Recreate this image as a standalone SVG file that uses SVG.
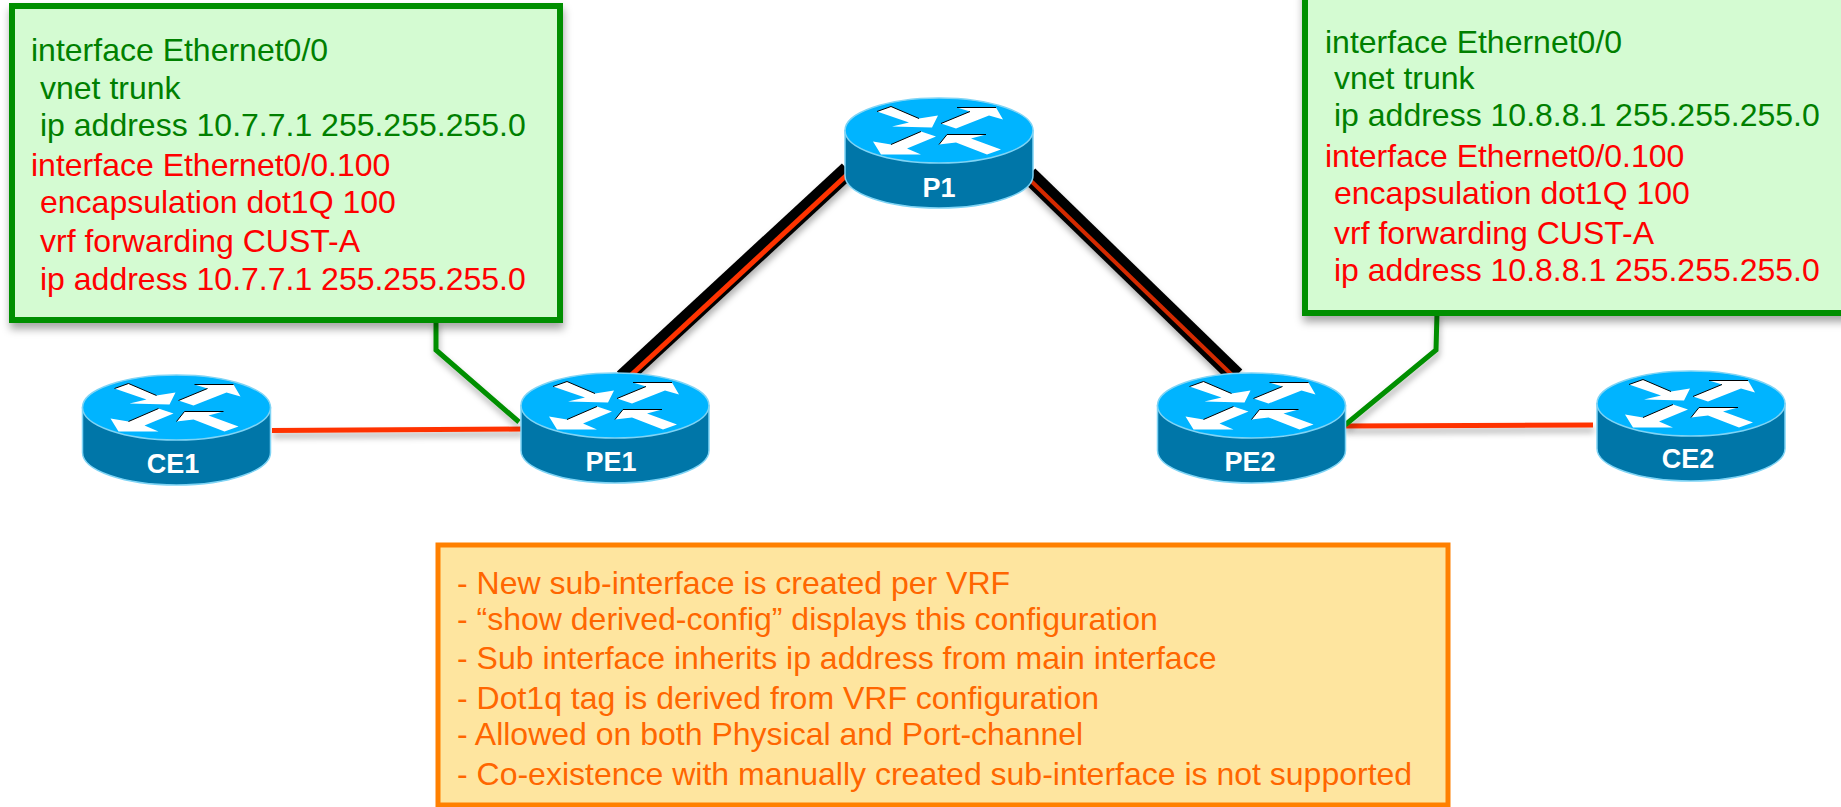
<svg xmlns="http://www.w3.org/2000/svg" width="1841" height="807" viewBox="0 0 1841 807">
<style>
text{font-family:"Liberation Sans",Arial,sans-serif}
.cfg{font-size:32px}
.g{fill:#008000}
.r{fill:#ff0000}
.box{fill:#d4fbd2;stroke:#008f00;stroke-width:6;filter:url(#sh)}
.note{fill:#fee59f;stroke:#ff8000;stroke-width:5}
.nt{font-size:32px;fill:#ff6600}
.lbl{font-size:27px;font-weight:bold;fill:#fff;text-anchor:middle}
.leader{fill:none;stroke:#008f00;stroke-width:5}
.access{fill:none;stroke:#ff3300;stroke-width:5}
.core{fill:none;stroke:#000;stroke-width:18}
.corer{fill:none;stroke:#ff3300;stroke-width:5}
.corer2{fill:none;stroke:#d42a00;stroke-width:4}
.arr{fill:#fff;stroke:none}
.edge{fill:none;stroke:#000;stroke-width:1}
</style>
<defs>
<filter id="sh" x="-10%" y="-10%" width="120%" height="125%"><feDropShadow dx="1" dy="6" stdDeviation="4" flood-color="#000" flood-opacity="0.35"/></filter>
<filter id="lsh" filterUnits="userSpaceOnUse" x="0" y="0" width="1841" height="807"><feDropShadow dx="1" dy="5" stdDeviation="3" flood-color="#000" flood-opacity="0.3"/></filter>
<g id="router">
<path d="M-94 0V45C-94 63-52 77.500 0 77.500S94 63 94 45V0Z" fill="#0076a8" stroke="#7fd4f5" stroke-width="1.500"/>
<ellipse cx="0" cy="0" rx="94" ry="32.500" fill="#00b4ff" stroke="#7fd4f5" stroke-width="1.500"/>
<polygon class="arr" points="-62,-19 -48,-24 -20,-12 -1,-15 -7,-3 -47,-4 -30,-8"/>
<polygon class="arr" points="2,-7 31,-19 18,-23 57,-23 64,-11 50,-15 17,-2"/>
<polygon class="arr" points="-48,14 -18,1 -3,6 -32,18 -18,24 -58,24 -66,11"/>
<polygon class="arr" points="0,14 8,4 47,4 32,8 62,19 48,24 17,12"/>
<path class="edge" d="M-62,-19L-48,-24L-20,-12M2,-7L31,-19M18,-23H57M-48,14L-18,1M0,14L8,4H47"/>
</g>
</defs>
<rect width="1841" height="807" fill="#fff"/>
<g id="connectors">
<line class="core" x1="623" y1="378" x2="848" y2="170" filter="url(#lsh)"/>
<line class="corer" x1="628" y1="378" x2="850" y2="172"/>
<line class="core" x1="1236" y1="376" x2="1029" y2="175" filter="url(#lsh)"/>
<line class="corer2" x1="1232" y1="375" x2="1028" y2="178"/>
<line class="access" x1="272" y1="430.500" x2="523" y2="429" filter="url(#lsh)"/>
<line class="access" x1="1344" y1="426" x2="1593" y2="425" filter="url(#lsh)"/>
<path class="leader" d="M436 320V350L519 422" filter="url(#lsh)"/>
<path class="leader" d="M1437 313L1436 350L1345 425" filter="url(#lsh)"/>
</g>
<g id="CE1"><use href="#router" x="176.500" y="407.500"/><text class="lbl" x="173" y="473">CE1</text></g>
<g id="PE1"><use href="#router" x="615" y="405.500"/><text class="lbl" x="611" y="471">PE1</text></g>
<g id="P1"><use href="#router" x="939" y="130.500"/><text class="lbl" x="939" y="197">P1</text></g>
<g id="PE2"><use href="#router" x="1251.500" y="405.500"/><text class="lbl" x="1250" y="471">PE2</text></g>
<g id="CE2"><use href="#router" x="1691" y="403.500"/><text class="lbl" x="1688" y="468">CE2</text></g>
<g id="config-left">
<rect class="box" x="12" y="6" width="548" height="314"/>
<text class="cfg g" x="31" y="61">interface Ethernet0/0</text>
<text class="cfg g" x="40" y="99">vnet trunk</text>
<text class="cfg g" x="40" y="136">ip address 10.7.7.1 255.255.255.0</text>
<text class="cfg r" x="31" y="176">interface Ethernet0/0.100</text>
<text class="cfg r" x="40" y="213">encapsulation dot1Q 100</text>
<text class="cfg r" x="40" y="252">vrf forwarding CUST-A</text>
<text class="cfg r" x="40" y="290">ip address 10.7.7.1 255.255.255.0</text>
</g>
<g id="config-right">
<rect class="box" x="1305" y="-10" width="560" height="323"/>
<text class="cfg g" x="1325" y="53">interface Ethernet0/0</text>
<text class="cfg g" x="1334" y="89">vnet trunk</text>
<text class="cfg g" x="1334" y="126">ip address 10.8.8.1 255.255.255.0</text>
<text class="cfg r" x="1325" y="167">interface Ethernet0/0.100</text>
<text class="cfg r" x="1334" y="204">encapsulation dot1Q 100</text>
<text class="cfg r" x="1334" y="244">vrf forwarding CUST-A</text>
<text class="cfg r" x="1334" y="281">ip address 10.8.8.1 255.255.255.0</text>
</g>
<g id="note">
<rect class="note" x="438" y="545" width="1010" height="260"/>
<text class="nt" x="457" y="594">- New sub-interface is created per VRF</text>
<text class="nt" x="457" y="630">- “show derived-config” displays this configuration</text>
<text class="nt" x="457" y="669">- Sub interface inherits ip address from main interface</text>
<text class="nt" x="457" y="709">- Dot1q tag is derived from VRF configuration</text>
<text class="nt" x="457" y="745">- Allowed on both Physical and Port-channel</text>
<text class="nt" x="457" y="785">- Co-existence with manually created sub-interface is not supported</text>
</g>
</svg>
